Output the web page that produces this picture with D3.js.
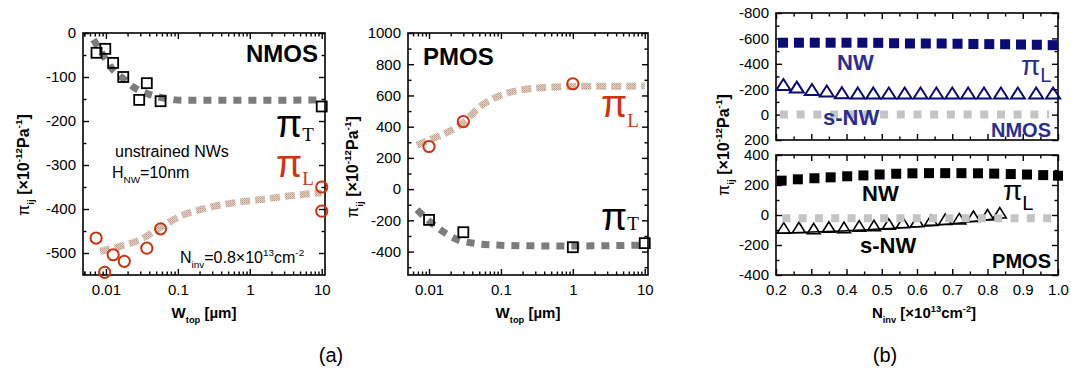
<!DOCTYPE html>
<html><head><meta charset="utf-8">
<script src="https://cdn.jsdelivr.net/npm/d3@7"></script>
<style>body{margin:0;background:#fff;} svg{display:block;} text{font-family:"Liberation Sans",Arial,sans-serif;}</style>
</head><body><svg id="c" width="1071" height="381"></svg>
<script>
// ---------- data: panel (a) NMOS ----------
const nmosTW = [0.0074, 0.0098, 0.0126, 0.0174, 0.029, 0.037, 0.0575, 10];
const nmosTV = [-45, -36, -68, -100, -152, -114, -155, -167];
const nmosLW = [0.0073, 0.0096, 0.0126, 0.018, 0.037, 0.0575, 10, 10];
const nmosLV = [-466, -544, -504, -519, -489, -445, -350, -405];
const nmosTFitW = [0.0067, 0.0097, 0.012, 0.017, 0.0253, 0.041, 0.07, 0.118, 1, 10];
const nmosTFitV = [-15, -57, -80, -102, -125, -140, -149, -153, -153, -152];
const nmosLFitW = [0.0083, 0.0156, 0.0296, 0.056, 0.106, 0.25, 0.59, 1.37, 3.2, 10];
const nmosLFitV = [-496, -485, -470, -443, -417, -398, -386, -379, -371, -363];
// ---------- data: panel (a) PMOS ----------
const pmosLW = [0.01, 0.03, 1];
const pmosLV = [273, 433, 675];
const pmosTW = [0.01, 0.03, 1, 10];
const pmosTV = [-197, -276, -372, -346];
const pmosLFitW = [0.0068, 0.01, 0.02, 0.03, 0.05, 0.1, 0.2, 0.5, 1, 10];
const pmosLFitV = [280, 315, 375, 425, 525, 602, 636, 653, 658, 660];
const pmosTFitW = [0.0068, 0.0102, 0.0157, 0.024, 0.041, 0.078, 0.22, 1, 10];
const pmosTFitV = [-132, -207, -272, -321, -346, -357, -363, -364, -358];
// ---------- data: panel (b) ----------
const nmosNWx = [0.22, 0.265, 0.31, 0.355, 0.40, 0.445, 0.49, 0.535, 0.58, 0.625, 0.67, 0.715, 0.76, 0.805, 0.85, 0.895, 0.94, 0.985];
const nmosNWv = [-566, -566, -566, -566, -566, -566, -565, -562, -560, -560, -560, -558, -556, -555, -554, -552, -550, -547];
const nmosSx = [0.221, 0.259, 0.302, 0.344, 0.387, 0.432, 0.476, 0.52, 0.565, 0.61, 0.655, 0.70, 0.745, 0.79, 0.838, 0.886, 0.938, 0.986];
const nmosSv = [-222, -202, -183, -171, -158, -156, -156, -155, -155, -155, -155, -155, -155, -155, -155, -155, -155, -155];
const nmosBulkX = [0.211, 0.975];
const nmosBulkV = [0, 0];
const pmosNWx = [0.216, 0.262, 0.309, 0.355, 0.402, 0.448, 0.494, 0.541, 0.587, 0.634, 0.680, 0.726, 0.773, 0.819, 0.866, 0.912, 0.958, 1.0];
const pmosNWv = [229, 238, 245, 251, 258, 264, 270, 275, 278, 279, 279, 279, 278, 276, 273, 270, 266, 262];
const pmosSx = [0.222, 0.265, 0.307, 0.350, 0.393, 0.436, 0.478, 0.52, 0.56, 0.60, 0.64, 0.68, 0.72, 0.76, 0.80, 0.835];
const pmosSv = [-98, -95, -102, -92, -94, -84, -82, -72, -62, -55, -46, -40, -36, -20, -10, 3];
const pmosSLineX = [0.2, 0.52, 0.7, 0.845];
const pmosSLineV = [-122, -90, -58, -18];
const pmosBulkX = [0.218, 0.987];
const pmosBulkV = [-22, -22];
// ---------- tick labels ----------
const logMajor = [0.01, 0.1, 1, 10];
const logLabels = ["0.01", "0.1", "1", "10"];
const p1Major = [0, -100, -200, -300, -400, -500];
const p2Major = [1000, 800, 600, 400, 200, 0, -200, -400];
const p3Major = [-800, -600, -400, -200, 0, 200];
const p4Major = [400, 200, 0, -200, -400];
const bXMajor = [0.2, 0.3, 0.4, 0.5, 0.6, 0.7, 0.8, 0.9, 1.0];
const bXLabels = ["0.2", "0.3", "0.4", "0.5", "0.6", "0.7", "0.8", "0.9", "1.0"];

const svg = d3.select('#c');
const RED = '#cc3511', NAVY = '#0b0b74', NAVYT = '#2c2e8e', GRAYD = '#7c7c7c', GRAYL = '#c4c4c4';

const defs = svg.append('defs');
const pat = defs.append('pattern').attr('id', 'tan').attr('patternUnits', 'userSpaceOnUse').attr('width', 2).attr('height', 2);
pat.append('rect').attr('width', 2).attr('height', 2).attr('fill', '#e0cfc5');
pat.append('rect').attr('width', 1).attr('height', 1).attr('fill', '#c09c8b');
pat.append('rect').attr('x', 1).attr('y', 1).attr('width', 1).attr('height', 1).attr('fill', '#cdb0a2');

function logMinor(lo, hi) {
  const out = [];
  for (let e = -3; e <= 1; e++) for (let m = 2; m <= 9; m++) { const v = m * Math.pow(10, e); if (v > lo && v < hi) out.push(v); }
  out.push(0.005);
  return out.filter(v => v > lo && v < hi);
}
function range(a, b, s) { const o = []; for (let v = a; v <= b + 1e-9; v += s) o.push(+v.toFixed(4)); return o; }

function panel(p) {
  const g = svg.append('g');
  const M = 6, m = 3.5;
  const fs = '15px';
  const styleAxis = sel => { sel.select('.domain').remove(); sel.selectAll('line').attr('stroke', '#000').attr('stroke-width', 1.4); sel.selectAll('text').attr('font-size', fs).attr('fill', '#000').attr('font-family', '"Liberation Sans",Arial,sans-serif'); };
  g.append('g').attr('transform', `translate(0,${p.y1})`).call(d3.axisBottom(p.xs).tickValues(p.xMajor).tickSize(-M).tickPadding(9).tickFormat(p.xLabels ? (d, i) => p.xLabels[i] : () => '')).call(styleAxis);
  g.append('g').attr('transform', `translate(0,${p.y1})`).call(d3.axisBottom(p.xs).tickValues(p.xMinor).tickSize(-m).tickFormat(() => '')).call(styleAxis);
  g.append('g').attr('transform', `translate(0,${p.y0})`).call(d3.axisTop(p.xs).tickValues(p.xMajor).tickSize(-M).tickFormat(() => '')).call(styleAxis);
  g.append('g').attr('transform', `translate(0,${p.y0})`).call(d3.axisTop(p.xs).tickValues(p.xMinor).tickSize(-m).tickFormat(() => '')).call(styleAxis);
  g.append('g').attr('transform', `translate(${p.x0},0)`).call(d3.axisLeft(p.ys).tickValues(p.yMajor).tickSize(-M).tickPadding(7).tickFormat(d => String(d))).call(styleAxis);
  g.append('g').attr('transform', `translate(${p.x0},0)`).call(d3.axisLeft(p.ys).tickValues(p.yMinor).tickSize(-m).tickFormat(() => '')).call(styleAxis);
  g.append('g').attr('transform', `translate(${p.x1},0)`).call(d3.axisRight(p.ys).tickValues(p.yMajor).tickSize(-M).tickFormat(() => '')).call(styleAxis);
  g.append('g').attr('transform', `translate(${p.x1},0)`).call(d3.axisRight(p.ys).tickValues(p.yMinor).tickSize(-m).tickFormat(() => '')).call(styleAxis);
  g.append('rect').attr('x', p.x0).attr('y', p.y0).attr('width', p.x1 - p.x0).attr('height', p.y1 - p.y0).attr('fill', 'none').attr('stroke', '#000').attr('stroke-width', 1.6);
  return g;
}

function fitLine(g, xs, ys, X, V, stroke, dash, w) {
  const line = d3.line().x(d => xs(d[0])).y(d => ys(d[1])).curve(d3.curveMonotoneX);
  g.append('path').attr('d', line(X.map((x, i) => [x, V[i]]))).attr('fill', 'none').attr('stroke', stroke).attr('stroke-width', w).attr('stroke-dasharray', dash);
}
function squares(g, xs, ys, X, V, s, opt) {
  g.selectAll(null).data(X.map((x, i) => [x, V[i]])).enter().append('rect')
    .attr('x', d => xs(d[0]) - s / 2).attr('y', d => ys(d[1]) - s / 2).attr('width', s).attr('height', s)
    .attr('fill', opt.fill).attr('stroke', opt.stroke || 'none').attr('stroke-width', opt.sw || 0);
}
function circles(g, xs, ys, X, V) {
  g.selectAll(null).data(X.map((x, i) => [x, V[i]])).enter().append('circle')
    .attr('cx', d => xs(d[0])).attr('cy', d => ys(d[1])).attr('r', 5.6)
    .attr('fill', 'none').attr('stroke', RED).attr('stroke-width', 2);
}
function triangles(g, xs, ys, X, V, w, h, color, sw) {
  g.selectAll(null).data(X.map((x, i) => [x, V[i]])).enter().append('path')
    .attr('d', d => { const cx = xs(d[0]), cy = ys(d[1]); return `M${cx},${cy - 2 * h / 3}L${cx + w / 2},${cy + h / 3}L${cx - w / 2},${cy + h / 3}Z`; })
    .attr('fill', 'none').attr('stroke', color).attr('stroke-width', sw).attr('stroke-linejoin', 'miter');
}
// rich text with sub/superscripts
function rich(g, x, y, parts, size, attrs) {
  const t = g.append('text').attr('x', x).attr('y', y).attr('font-size', size);
  Object.entries(attrs || {}).forEach(([k, v]) => t.attr(k, v));
  let cur = 0;
  parts.forEach(p => {
    const ts = t.append('tspan').text(p.t);
    const target = p.off !== undefined ? p.off : p.sub ? size * 0.32 : p.sup ? -size * 0.42 : 0;
    if (target - cur !== 0) ts.attr('dy', target - cur);
    cur = target;
    if (p.size) ts.attr('font-size', p.size);
    else if (p.sub || p.sup) ts.attr('font-size', size * 0.62);
    if (p.fam) ts.attr('font-family', p.fam);
    if (p.fw) ts.attr('font-weight', p.fw);
    if (p.dx) ts.attr('dx', p.dx);
  });
  return t;
}
const ylabParts = [{ t: 'π', fw: 'normal' }, { t: 'ij', sub: true }, { t: ' [×10' }, { t: '-12', sup: true }, { t: 'Pa' }, { t: '-1', sup: true }, { t: ']' }];
function ylabel(x, y) {
  rich(svg.append('g').attr('transform', `translate(${x},${y}) rotate(-90)`), 0, 0, ylabParts, 16, { 'font-weight': 'bold', 'text-anchor': 'middle' });
}
const SERIF = '"DejaVu Serif","Liberation Serif",serif';
const TIMES = '"Liberation Serif","Times New Roman",serif';
const OPEN = '"Open Sans","Liberation Sans",sans-serif';
// big pi with subscript, one text element
function piText(g, x, y, sub, size, subSize, subOff, color, subFam) {
  rich(g, x, y, [{ t: 'π' }, { t: sub, size: subSize, off: subOff, fam: subFam }], size, { 'font-family': SERIF, fill: color });
}

// ================= Panel 1: NMOS =================
{
  const p = { x0: 83, x1: 325, y0: 33, y1: 275 };
  p.xs = d3.scaleLog().domain([0.0048, 11.1]).range([p.x0, p.x1]);
  p.ys = d3.scaleLinear().domain([-550, 0]).range([p.y1, p.y0]);
  p.xMajor = logMajor; p.xLabels = logLabels; p.xMinor = logMinor(0.0048, 11.1);
  p.yMajor = p1Major; p.yMinor = [-50, -150, -250, -350, -450];
  const g = panel(p);
  fitLine(g, p.xs, p.ys, nmosTFitW, nmosTFitV, GRAYD, '8 7', 7);
  fitLine(g, p.xs, p.ys, nmosLFitW, nmosLFitV, 'url(#tan)', '10 5', 7);
  squares(g, p.xs, p.ys, nmosTW, nmosTV, 10, { fill: 'none', stroke: '#000', sw: 1.8 });
  circles(g, p.xs, p.ys, nmosLW, nmosLV);
  g.append('text').attr('x', 318).attr('y', 62).attr('text-anchor', 'end').attr('font-size', 24).attr('font-weight', 'bold').attr('font-family', OPEN).text('NMOS');
  piText(g, 276, 137, 'T', 38, 19, 4, '#000', TIMES);
  piText(g, 276, 177, 'L', 38, 19, 8, RED, TIMES);
  g.append('text').attr('x', 115).attr('y', 157).attr('font-size', 16).attr('font-family', OPEN).text('unstrained NWs');
  rich(g, 112, 178, [{ t: 'H' }, { t: 'NW', sub: true }, { t: '=10nm' }], 16, { 'font-family': OPEN });
  rich(g, 180, 263, [{ t: 'N' }, { t: 'inv', sub: true }, { t: '=0.8×10' }, { t: '13', sup: true }, { t: 'cm' }, { t: '-2', sup: true }], 16, { 'font-family': OPEN });
  rich(g, 204, 318, [{ t: 'W' }, { t: 'top', sub: true }, { t: ' [µm]' }], 15, { 'font-weight': 'bold', 'text-anchor': 'middle' });
  ylabel(29, 165);
}
// ================= Panel 2: PMOS =================
{
  const p = { x0: 408, x1: 648, y0: 33, y1: 275 };
  p.xs = d3.scaleLog().domain([0.0051, 11.1]).range([p.x0, p.x1]);
  p.ys = d3.scaleLinear().domain([-550, 1000]).range([p.y1, p.y0]);
  p.xMajor = logMajor; p.xLabels = logLabels; p.xMinor = logMinor(0.0051, 11.1);
  p.yMajor = p2Major; p.yMinor = [900, 700, 500, 300, 100, -100, -300, -500];
  const g = panel(p);
  fitLine(g, p.xs, p.ys, pmosTFitW, pmosTFitV, GRAYD, '8 7', 7);
  fitLine(g, p.xs, p.ys, pmosLFitW, pmosLFitV, 'url(#tan)', '10 5', 7);
  squares(g, p.xs, p.ys, pmosTW, pmosTV, 10, { fill: 'none', stroke: '#000', sw: 1.8 });
  circles(g, p.xs, p.ys, pmosLW, pmosLV);
  g.append('text').attr('x', 423).attr('y', 65).attr('font-size', 24).attr('font-weight', 'bold').attr('font-family', OPEN).text('PMOS');
  piText(g, 601, 117, 'L', 38, 19, 10, RED, TIMES);
  piText(g, 601, 230, 'T', 38, 19, 0, '#000', TIMES);
  rich(g, 528, 318, [{ t: 'W' }, { t: 'top', sub: true }, { t: ' [µm]' }], 15, { 'font-weight': 'bold', 'text-anchor': 'middle' });
  ylabel(358, 167);
}
// ================= Panel 3: (b) NMOS =================
{
  const p = { x0: 776, x1: 1058, y0: 13, y1: 140 };
  p.xs = d3.scaleLinear().domain([0.2, 1.0]).range([p.x0, p.x1]);
  p.ys = d3.scaleLinear().domain([-800, 200]).range([p.y0, p.y1]);
  p.xMajor = bXMajor; p.xLabels = null; p.xMinor = range(0.25, 0.95, 0.1);
  p.yMajor = p3Major; p.yMinor = [-700, -500, -300, -100, 100];
  const g = panel(p);
  fitLine(g, p.xs, p.ys, nmosBulkX, nmosBulkV, GRAYL, '8 8.7', 8);
  squares(g, p.xs, p.ys, nmosNWx, nmosNWv, 10, { fill: NAVY });
  triangles(g, p.xs, p.ys, nmosSx, nmosSv, 14, 11, NAVY, 2);
  g.append('text').attr('x', 837).attr('y', 70).attr('font-size', 22).attr('font-weight', 'bold').attr('fill', NAVYT).text('NW');
  g.append('text').attr('x', 823).attr('y', 125).attr('font-size', 22).attr('font-weight', 'bold').attr('fill', NAVYT).text('s-NW');
  g.append('text').attr('x', 1051).attr('y', 137).attr('text-anchor', 'end').attr('font-size', 20).attr('font-weight', 'bold').attr('fill', NAVYT).text('NMOS');
  piText(g, 1021, 75, 'L', 28, 20, 7, NAVYT, '"Liberation Sans",Arial,sans-serif');
}
// ================= Panel 4: (b) PMOS =================
{
  const p = { x0: 776, x1: 1058, y0: 155, y1: 275 };
  p.xs = d3.scaleLinear().domain([0.2, 1.0]).range([p.x0, p.x1]);
  p.ys = d3.scaleLinear().domain([-400, 400]).range([p.y1, p.y0]);
  p.xMajor = bXMajor; p.xLabels = bXLabels; p.xMinor = range(0.25, 0.95, 0.1);
  p.yMajor = p4Major; p.yMinor = [300, 100, -100, -300];
  const g = panel(p);
  squares(g, p.xs, p.ys, pmosNWx, pmosNWv, 10, { fill: '#000' });
  fitLine(g, p.xs, p.ys, pmosSLineX, pmosSLineV, '#000', null, 1.4);
  triangles(g, p.xs, p.ys, pmosSx, pmosSv, 13, 10.5, '#000', 1.6);
  fitLine(g, p.xs, p.ys, pmosBulkX, pmosBulkV, GRAYL, '8 8.3', 8);
  g.append('text').attr('x', 862).attr('y', 201).attr('font-size', 22).attr('font-weight', 'bold').text('NW');
  g.append('text').attr('x', 860).attr('y', 253).attr('font-size', 22).attr('font-weight', 'bold').text('s-NW');
  g.append('text').attr('x', 1051).attr('y', 268).attr('text-anchor', 'end').attr('font-size', 20).attr('font-weight', 'bold').text('PMOS');
  piText(g, 1003, 200, 'L', 28, 20, 10, '#000', '"Liberation Sans",Arial,sans-serif');
  rich(g, 924, 318, [{ t: 'N' }, { t: 'inv', sub: true }, { t: ' [×10' }, { t: '13', sup: true }, { t: 'cm' }, { t: '-2', sup: true }, { t: ']' }], 15, { 'font-weight': 'bold', 'text-anchor': 'middle' });
}
ylabel(729, 145);
svg.append('text').attr('x', 331).attr('y', 362).attr('text-anchor', 'middle').attr('font-size', 20).attr('font-family', TIMES).text('(a)');
svg.append('text').attr('x', 885).attr('y', 362).attr('text-anchor', 'middle').attr('font-size', 20).attr('font-family', TIMES).text('(b)');
</script></body></html>
